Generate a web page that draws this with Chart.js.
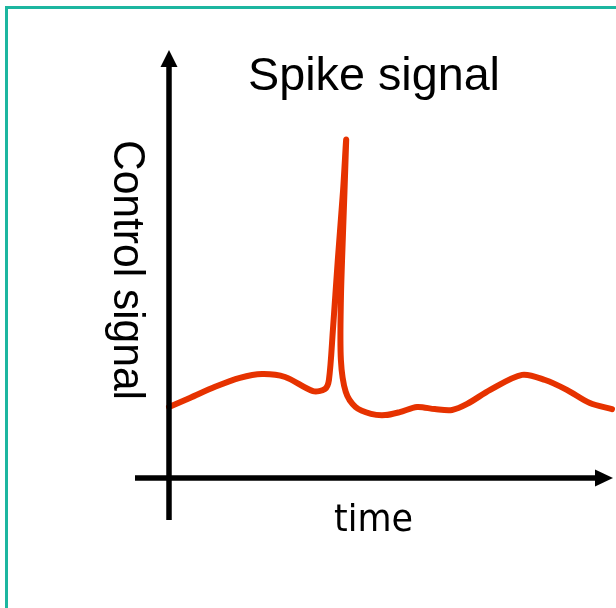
<!DOCTYPE html>
<html>
<head>
<meta charset="utf-8">
<script src="https://cdn.jsdelivr.net/npm/chart.js@4/dist/chart.umd.min.js"></script>
<style>
  html, body { margin: 0; padding: 0; background: #ffffff; }
  #wrap { position: relative; width: 616px; height: 608px; }
  canvas { display: block; }
</style>
</head>
<body>
<div id="wrap"><canvas id="c" width="616" height="608"></canvas></div>
<script>
// ---- Data ----
const chartTitle = "Spike signal";
const xAxisLabel = "time";
const yAxisLabel = "Control signal";

const timeValues   = [0.00, 0.47, 1.04, 1.60, 2.10, 2.62, 3.25, 3.52, 3.61, 3.70, 3.81, 3.93, 4.00, 3.93, 3.88, 3.88, 3.99, 4.21, 4.56, 4.88, 5.21, 5.60, 6.00, 6.39, 6.73, 7.25, 7.97, 8.49, 8.98, 9.50, 10.00];
const signalValues = [1.66, 1.87, 2.13, 2.34, 2.43, 2.36, 2.03, 2.08, 2.29, 3.46, 5.09, 6.73, 7.90, 5.79, 4.16, 2.76, 2.01, 1.66, 1.50, 1.47, 1.54, 1.66, 1.61, 1.59, 1.73, 2.06, 2.41, 2.29, 2.06, 1.75, 1.61];

const points = timeValues.map((t, i) => ({ x: t, y: signalValues[i] }));

// ---- Plugin: frame, arrowed axes and labels ----
const decor = {
  id: 'decor',
  beforeDraw(chart) {
    const ctx = chart.ctx;
    ctx.save();
    ctx.fillStyle = '#ffffff';
    ctx.fillRect(0, 0, chart.width, chart.height);
    ctx.fillStyle = '#1cb6a0';
    ctx.fillRect(5, 6, 3, chart.height - 6);
    ctx.fillRect(5, 6, chart.width - 5, 3);
    ctx.restore();
  },
  afterDraw(chart) {
    const ctx = chart.ctx;
    const xs = chart.scales.x, ys = chart.scales.y;
    const x0 = xs.getPixelForValue(0);
    const y0 = ys.getPixelForValue(0);
    const xEnd = xs.getPixelForValue(xs.max);
    const yTop = ys.getPixelForValue(ys.max);
    ctx.save();
    ctx.strokeStyle = '#000';
    ctx.fillStyle = '#000';
    ctx.lineWidth = 5.5;
    ctx.lineCap = 'butt';
    // y axis
    ctx.beginPath();
    ctx.moveTo(x0, y0 + 42);
    ctx.lineTo(x0, yTop + 14);
    ctx.stroke();
    ctx.beginPath();
    ctx.moveTo(x0, yTop);
    ctx.lineTo(x0 - 8.5, yTop + 17);
    ctx.lineTo(x0 + 8.5, yTop + 17);
    ctx.closePath();
    ctx.fill();
    // x axis
    ctx.beginPath();
    ctx.moveTo(x0 - 34, y0);
    ctx.lineTo(xEnd - 14, y0);
    ctx.stroke();
    ctx.beginPath();
    ctx.moveTo(xEnd + 1, y0);
    ctx.lineTo(xEnd - 17, y0 - 8.5);
    ctx.lineTo(xEnd - 17, y0 + 8.5);
    ctx.closePath();
    ctx.fill();

    // texts, fitted to their width in the reference
    function fitText(str, font, width, x, y, angle) {
      ctx.save();
      ctx.font = font;
      ctx.textAlign = 'left';
      ctx.textBaseline = 'alphabetic';
      const w = ctx.measureText(str).width;
      ctx.translate(x, y);
      if (angle) ctx.rotate(angle);
      ctx.scale(width / w, 1);
      ctx.fillStyle = '#000';
      ctx.fillText(str, 0, 0);
      ctx.restore();
    }
    fitText(chartTitle, '46px "Liberation Sans", Arial, sans-serif', 252, 248, 90, 0);
    fitText(yAxisLabel, '45px "Liberation Sans", Arial, sans-serif', 260, 114, 140, Math.PI / 2);
    fitText(xAxisLabel, '38px "DejaVu Sans", sans-serif', 79, 334, 531, 0);
    ctx.restore();
  }
};

new Chart(document.getElementById('c'), {
  type: 'scatter',
  data: {
    datasets: [{
      data: points,
      showLine: true,
      borderColor: '#e63200',
      borderWidth: 6,
      pointRadius: 0,
      tension: 0.3,
      fill: false,
      clip: false,
      borderCapStyle: 'round',
      borderJoinStyle: 'round'
    }]
  },
  options: {
    responsive: false,
    animation: false,
    events: [],
    layout: { padding: { left: 169, right: 4, top: 50, bottom: 130 } },
    plugins: { legend: { display: false }, tooltip: { enabled: false }, title: { display: false } },
    scales: {
      x: { type: 'linear', min: 0, max: 10, display: false },
      y: { type: 'linear', min: 0, max: 10, display: false }
    }
  },
  plugins: [decor]
});
</script>
</body>
</html>
